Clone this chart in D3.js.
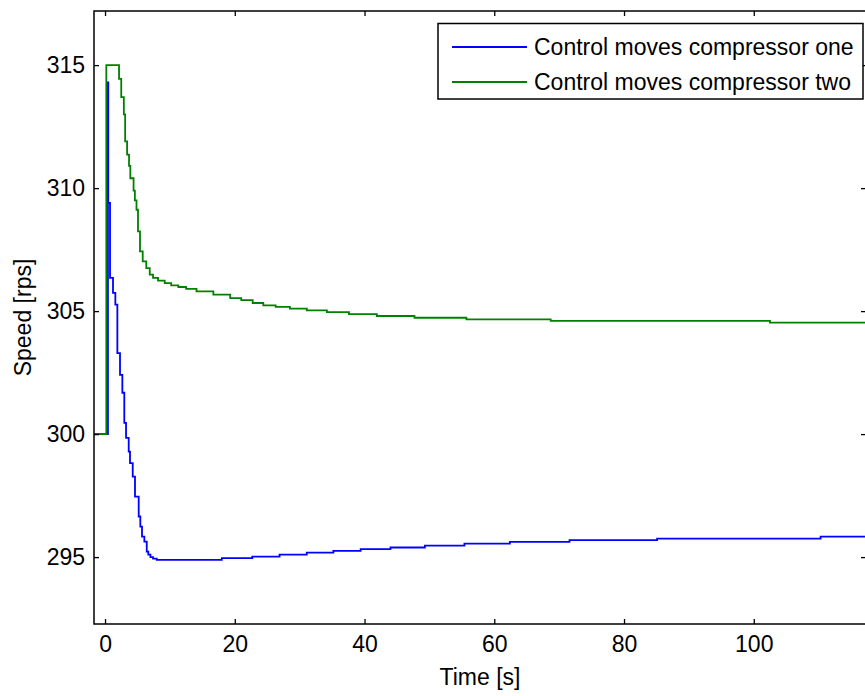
<!DOCTYPE html>
<html>
<head>
<meta charset="utf-8">
<script src="https://cdn.jsdelivr.net/npm/d3@7"></script>
<style>
  html, body { margin: 0; padding: 0; background: #fff; }
  svg { display: block; font-family: "Liberation Sans", Arial, sans-serif; }
</style>
</head>
<body>
<svg id="chart" width="865" height="696"></svg>
<script>
// Compressor speed response (staircase samples: time [s], speed [rps])
const seriesNames = ["Control moves compressor one", "Control moves compressor two"];
const seriesColors = ["#0000ff", "#008000"];

const oneTime = [-1.7, 0.45, 0.5, 0.77, 1.23, 1.59, 1.9, 2.31, 2.67, 2.97, 3.24, 3.65, 3.85, 4.27, 4.62,
  5.19, 5.44, 5.70, 6.06, 6.43, 6.67, 7.0, 7.4, 7.97, 18.0, 22.7, 26.9, 31.1, 35.2, 39.4, 44.0, 49.3,
  55.4, 62.4, 71.6, 85.1, 110.3, 117.3];
const oneSpeed = [300, 314.3, 309.4, 306.35, 305.74, 305.26, 303.29, 302.41, 301.68, 300.46, 299.85,
  299.29, 298.82, 298.27, 297.46, 296.65, 296.24, 295.83, 295.63, 295.22, 295.1, 295.0, 294.94, 294.89,
  294.96, 295.02, 295.10, 295.18, 295.25, 295.32, 295.39, 295.47, 295.55, 295.62, 295.69, 295.75,
  295.83, 295.83];

const twoTime = [-1.7, 0.2, 2.16, 2.5, 2.9, 3.1, 3.4, 3.7, 3.9, 4.4, 4.6, 4.85, 5.08, 5.39, 5.81, 6.36,
  6.89, 7.4, 8.17, 9.2, 10.2, 11.3, 12.5, 14.1, 16.7, 19.3, 21.0, 22.76, 24.4, 26.3, 28.5, 31.1, 34.2,
  37.6, 41.9, 47.7, 55.7, 68.7, 102.5, 117.3];
const twoSpeed = [300, 315, 314.44, 313.7, 313.0, 311.9, 311.36, 310.9, 310.4, 309.9, 309.5, 309.12,
  308.24, 307.43, 307.02, 306.75, 306.48, 306.35, 306.24, 306.14, 306.05, 305.98, 305.90, 305.80,
  305.67, 305.53, 305.45, 305.33, 305.23, 305.17, 305.10, 305.03, 304.96, 304.88, 304.80, 304.73,
  304.66, 304.60, 304.53, 304.53];

const xTicks = [0, 20, 40, 60, 80, 100];
const yTicks = [295, 300, 305, 310, 315];
const xDomain = [-1.7, 117.3];
const yDomain = [292.28, 317.2];

const svg = d3.select("#chart");
const plot = { left: 94, top: 11, right: 866, bottom: 624 };

const x = d3.scaleLinear().domain(xDomain).range([plot.left, plot.right]);
const y = d3.scaleLinear().domain(yDomain).range([plot.bottom, plot.top]);

svg.append("defs").append("clipPath").attr("id", "plotClip")
  .append("rect")
  .attr("x", plot.left).attr("y", plot.top)
  .attr("width", plot.right - plot.left).attr("height", plot.bottom - plot.top);

// Data lines
const series = [
  d3.zip(oneTime, oneSpeed),
  d3.zip(twoTime, twoSpeed)
];
const line = d3.line().x(d => x(d[0])).y(d => y(d[1])).curve(d3.curveStepAfter);
const lines = svg.append("g").attr("clip-path", "url(#plotClip)");
series.forEach((s, i) => {
  lines.append("path")
    .datum(s)
    .attr("d", line)
    .attr("fill", "none")
    .attr("stroke", seriesColors[i])
    .attr("stroke-width", 1.8)
    .attr("stroke-linejoin", "miter");
});

// Axes with inward ticks on all four sides
const tickLen = 5;
const fontSize = 23;
const axisBottom = d3.axisBottom(x).tickValues(xTicks).tickSizeInner(-tickLen).tickSizeOuter(0).tickPadding(12);
const axisTop = d3.axisTop(x).tickValues(xTicks).tickSizeInner(-tickLen).tickSizeOuter(0).tickFormat("");
const axisLeft = d3.axisLeft(y).tickValues(yTicks).tickSizeInner(-tickLen).tickSizeOuter(0).tickPadding(9);
const axisRight = d3.axisRight(y).tickValues(yTicks).tickSizeInner(-tickLen).tickSizeOuter(0).tickFormat("");

function style(g) {
  g.select(".domain").remove();
  g.selectAll(".tick line").attr("stroke", "#000").attr("stroke-width", 1.3);
  g.selectAll(".tick text").attr("fill", "#000").attr("font-size", fontSize)
    .attr("font-family", "'Liberation Sans', Arial, sans-serif");
}

svg.append("g").attr("transform", `translate(0,${plot.bottom})`).call(axisBottom).call(style);
svg.append("g").attr("transform", `translate(0,${plot.top})`).call(axisTop).call(style);
svg.append("g").attr("transform", `translate(${plot.left},0)`).call(axisLeft).call(style);
svg.append("g").attr("transform", `translate(${plot.right},0)`).call(axisRight).call(style);

// Plot frame
svg.append("rect")
  .attr("x", plot.left).attr("y", plot.top)
  .attr("width", plot.right - plot.left).attr("height", plot.bottom - plot.top)
  .attr("fill", "none").attr("stroke", "#000").attr("stroke-width", 1.5);

// Axis titles
svg.append("text")
  .attr("x", 480).attr("y", 685)
  .attr("text-anchor", "middle").attr("font-size", fontSize)
  .text("Time [s]");
svg.append("text")
  .attr("transform", `translate(31,${(plot.top + plot.bottom) / 2}) rotate(-90)`)
  .attr("text-anchor", "middle").attr("font-size", fontSize)
  .text("Speed [rps]");

// Legend
const legend = svg.append("g");
legend.append("rect")
  .attr("x", 438).attr("y", 23.5).attr("width", 425).attr("height", 75.5)
  .attr("fill", "#fff").attr("stroke", "#000").attr("stroke-width", 1.5);
seriesNames.forEach((name, i) => {
  const ly = 47 + i * 35;
  legend.append("line")
    .attr("x1", 452).attr("x2", 527).attr("y1", ly).attr("y2", ly)
    .attr("stroke", seriesColors[i]).attr("stroke-width", 1.8);
  legend.append("text")
    .attr("x", 534).attr("y", ly).attr("dy", "0.35em")
    .attr("font-size", fontSize)
    .text(name);
});
</script>
</body>
</html>
